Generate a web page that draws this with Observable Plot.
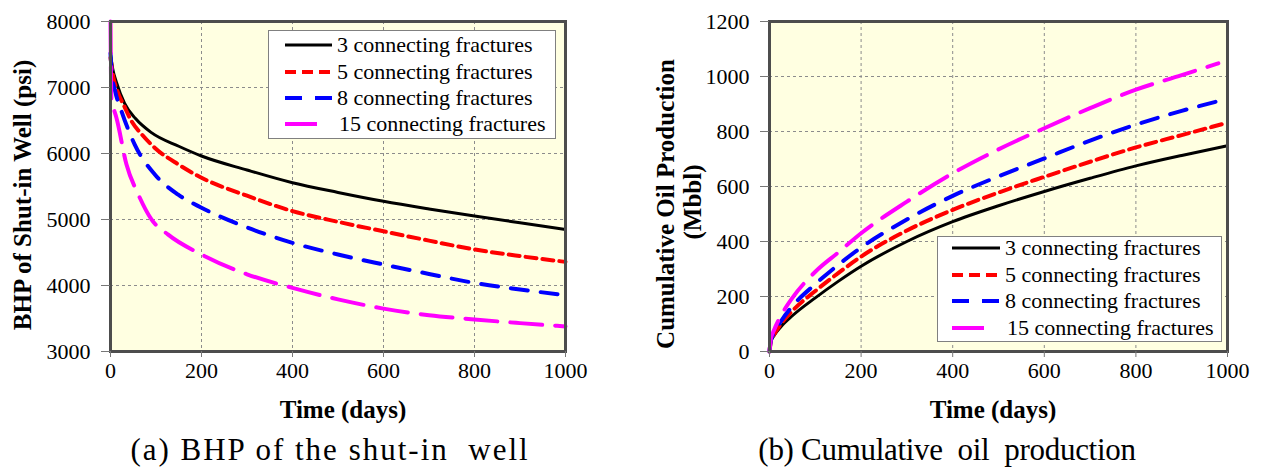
<!DOCTYPE html>
<html><head><meta charset="utf-8">
<script src="https://cdn.jsdelivr.net/npm/d3@7"></script>
<script src="https://cdn.jsdelivr.net/npm/@observablehq/plot@0.6"></script>
<style>
body{margin:0;background:#fff;}
#root{position:relative;width:1262px;height:468px;font-family:"Liberation Serif","Times New Roman",serif;color:#000;overflow:hidden;}
#root svg, #root svg text{font-family:"Liberation Serif","Times New Roman",serif !important;}
.abs{position:absolute;white-space:pre;line-height:1;}
.axlab{font-weight:bold;font-size:25px;}
.cap{font-size:31px;}
.leg{position:absolute;background:#fff;border:1px solid #808080;box-sizing:border-box;}
.legtxt{position:absolute;font-size:22px;line-height:1;transform:translateY(-50%);white-space:nowrap;}
.legsvg{position:absolute;overflow:visible;}
svg{overflow:visible;}
</style></head><body><div id="root"></div>
<script>
// ---------------- data ----------------
const seriesNames = ["3 connecting fractures", "5 connecting fractures", "8 connecting fractures", "15 connecting fractures"];
const timeTicks = [0, 200, 400, 600, 800, 1000];
const bhpTicks = [3000, 4000, 5000, 6000, 7000, 8000];
const cumTicks = [0, 200, 400, 600, 800, 1000, 1200];

// (a) BHP of shut-in well, psi  [time (days), value]
const bhp3 = [[0,7500],[5,7280],[13,7080],[31,6760],[55,6530],[90,6316],[150,6110],[200,5962],[300,5750],[400,5557],[500,5410],[600,5276],[700,5160],[800,5052],[900,4950],[1000,4850]];
const bhp5 = [[0,7450],[5,7200],[15,6950],[30,6720],[46,6493],[70,6280],[97,6088],[150,5830],[200,5633],[300,5360],[400,5127],[500,4965],[600,4821],[700,4680],[800,4546],[900,4445],[1000,4358]];
const bhp8 = [[0,7520],[3,7200],[10,6950],[24,6645],[53,6139],[97,5685],[148,5380],[200,5178],[300,4880],[400,4646],[500,4470],[600,4319],[700,4175],[800,4039],[900,3940],[1000,3853]];
const bhp15 = [[0,8000],[2,6800],[6,6700],[13,6543],[35,5836],[61,5381],[90,5002],[126,4774],[200,4470],[300,4170],[400,3964],[500,3790],[600,3650],[700,3550],[800,3485],[900,3430],[1000,3380]];

// (b) Cumulative oil production, Mbbl  [time (days), value]
const cum3 = [[0,0],[3,35],[10,58],[25,90],[50,130],[100,195],[150,255],[200,310],[300,400],[400,472],[500,530],[600,582],[700,630],[800,675],[900,713],[1000,748]];
const cum5 = [[0,0],[3,38],[10,62],[25,100],[50,148],[100,220],[150,285],[200,345],[300,440],[400,515],[500,578],[600,635],[700,690],[800,742],[900,787],[1000,832]];
const cum8 = [[0,0],[3,40],[10,68],[25,110],[50,165],[100,245],[150,315],[200,378],[300,480],[400,566],[500,637],[600,702],[700,767],[800,825],[900,875],[1000,919]];
const cum15 = [[0,0],[3,45],[10,78],[25,130],[50,195],[100,290],[150,360],[200,430],[300,545],[400,648],[500,735],[600,812],[700,885],[800,952],[900,1005],[980,1048]];

// ---------------- styles ----------------
const lineStyles = [
  {stroke: "#000000", strokeWidth: 3, dash: null},
  {stroke: "#ff0000", strokeWidth: 4, dash: "11,6"},
  {stroke: "#0000ff", strokeWidth: 4, dash: "17,13"},
  {stroke: "#ff00ff", strokeWidth: 4, dash: "32,13"}
];

const root = document.getElementById("root");

function makeChart(series, yDomain, yTicks, width, marginLeft) {
  const marks = [
    Plot.frame({fill: "#FFFFE1", stroke: "none"}),
    Plot.gridX({ticks: timeTicks.slice(1, -1), stroke: "#8c8c8c", strokeOpacity: 1, strokeWidth: 1, strokeDasharray: "3,3"}),
    Plot.gridY({ticks: yTicks.slice(1, -1), stroke: "#8c8c8c", strokeOpacity: 1, strokeWidth: 1, strokeDasharray: "3,3"})
  ];
  series.forEach((s, i) => {
    const st = lineStyles[i];
    marks.push(Plot.line(s, {x: d => d[0], y: d => d[1], stroke: st.stroke, strokeWidth: st.strokeWidth,
      strokeDasharray: st.dash || undefined, curve: "monotone-x"}));
  });
  marks.push(
    Plot.frame({stroke: "#4d4d4d", strokeWidth: 3}),
    Plot.axisX({ticks: timeTicks, tickFormat: "d", tickSize: 6, tickPadding: 5, stroke: "#777", label: null}),
    Plot.axisY({ticks: yTicks, tickFormat: "d", tickSize: 9, tickPadding: 11, stroke: "#777", label: null})
  );
  return Plot.plot({
    width, height: 430, marginLeft, marginRight: 35, marginTop: 21, marginBottom: 79,
    style: {fontFamily: "'Liberation Serif', serif", fontSize: "22px", color: "#000", background: "transparent"},
    x: {domain: [0, 1000]},
    y: {domain: yDomain},
    marks
  });
}

function place(el, left, top) {
  el.style.position = "absolute";
  el.style.left = left + "px";
  el.style.top = top + "px";
  root.appendChild(el);
}

const left = makeChart([bhp3, bhp5, bhp8, bhp15], [3000, 8000], bhpTicks, 600, 110);
place(left, 0, 0);
const right = makeChart([cum3, cum5, cum8, cum15], [0, 1200], cumTicks, 631, 138);
place(right, 631, 0);

function text(str, cls, x, y, rotate, extra) {
  const d = document.createElement("div");
  d.className = "abs " + cls;
  d.textContent = str;
  d.style.left = x + "px";
  d.style.top = y + "px";
  d.style.transform = "translate(-50%,-50%)" + (rotate ? " rotate(-90deg)" : "");
  if (extra) Object.assign(d.style, extra);
  root.appendChild(d);
}

text("BHP of Shut-in Well (psi)", "axlab", 22, 195, true);
text("Time (days)", "axlab", 343, 409);
text("Cumulative Oil Production", "axlab", 665, 204, true);
text("(Mbbl)", "axlab", 692, 202, true);
text("Time (days)", "axlab", 993, 409);
text("(a) BHP of the shut-in  well", "cap", 330, 449, false, {letterSpacing: "2px"});
text("(b) Cumulative  oil  production", "cap", 947, 449, false, {letterSpacing: "-0.3px"});

function legend(x, y, w, h, rowYs, lineX0, lineX1, textX) {
  const box = document.createElement("div");
  box.className = "leg";
  box.style.left = x + "px"; box.style.top = y + "px";
  box.style.width = w + "px"; box.style.height = h + "px";
  root.appendChild(box);
  seriesNames.forEach((name, i) => {
    const st = lineStyles[i];
    const x1 = i === 3 ? lineX0 + (lineX1 - lineX0) * 0.75 : lineX1;
    const svg = d3.create("svg").attr("class", "legsvg").attr("width", lineX1 - lineX0).attr("height", 10)
      .style("left", lineX0 + "px").style("top", (rowYs[i] - 5) + "px");
    svg.append("line").attr("x1", 0).attr("x2", x1 - lineX0).attr("y1", 5).attr("y2", 5)
      .attr("stroke", st.stroke).attr("stroke-width", st.strokeWidth)
      .attr("stroke-dasharray", st.dash);
    root.appendChild(svg.node());
    const t = document.createElement("div");
    t.className = "legtxt";
    t.textContent = name;
    t.style.left = (textX + (i === 3 ? 2 : 0)) + "px";
    t.style.top = rowYs[i] + "px";
    root.appendChild(t);
  });
}
legend(268, 30, 288, 109, [45, 71.5, 98, 123.5], 285, 332, 337);
legend(937, 236, 285, 106, [248, 275, 301, 328], 952, 1000, 1005);
</script></body></html>
